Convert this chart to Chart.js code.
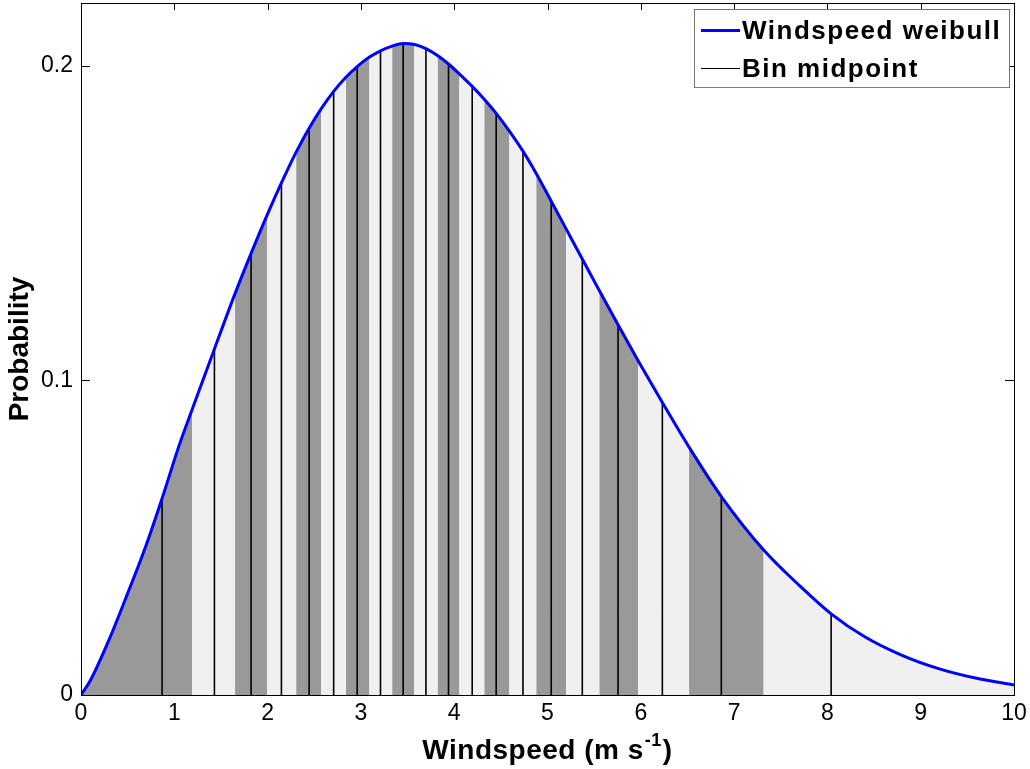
<!DOCTYPE html>
<html><head><meta charset="utf-8">
<script src="https://cdn.jsdelivr.net/npm/chart.js@4.4.1/dist/chart.umd.min.js"></script>
<style>html,body{margin:0;padding:0;background:#fff;}#wrap{width:1030px;height:769px;}</style>
</head><body><div id="wrap"><canvas id="c" width="1030" height="769"></canvas></div>
<script>
// ---- data ----
const curveX = [0, 0.1, 0.3, 0.5, 0.7, 0.869, 1.05, 1.194, 1.43, 1.651, 1.823, 1.998, 2.148, 2.306, 2.445, 2.577, 2.708, 2.839, 2.96, 3.092, 3.21, 3.335, 3.453, 3.574, 3.697, 3.821, 3.939, 4.057, 4.193, 4.322, 4.45, 4.593, 4.737, 4.879, 5.04, 5.201, 5.373, 5.555, 5.756, 5.973, 6.231, 6.517, 6.863, 7.317, 7.7, 8.04, 8.4, 8.8, 9.2, 9.6, 10];
const curveY = [0, 0.0046, 0.0175, 0.0323, 0.0478, 0.0625, 0.0792, 0.0910, 0.1100, 0.1276, 0.1404, 0.1528, 0.1628, 0.1726, 0.1802, 0.1865, 0.1919, 0.1964, 0.1998, 0.2028, 0.2048, 0.2063, 0.2071, 0.2068, 0.2055, 0.2033, 0.2006, 0.1974, 0.1935, 0.1894, 0.1849, 0.1792, 0.1729, 0.1658, 0.1570, 0.1481, 0.1386, 0.1286, 0.1177, 0.1062, 0.0930, 0.0788, 0.0631, 0.0461, 0.0348, 0.0258, 0.0185, 0.0126, 0.0083, 0.0053, 0.0032];
const binEdges = [0, 1.194, 1.651, 1.998, 2.306, 2.577, 2.839, 3.092, 3.335, 3.574, 3.821, 4.057, 4.322, 4.593, 4.879, 5.201, 5.555, 5.973, 6.517, 7.317, 10];
const midX = [0.869, 1.43, 1.823, 2.148, 2.445, 2.708, 2.96, 3.21, 3.453, 3.697, 3.939, 4.193, 4.45, 4.737, 5.04, 5.373, 5.756, 6.231, 6.863, 8.04];
const midY = [0.0625, 0.1100, 0.1404, 0.1628, 0.1802, 0.1919, 0.1998, 0.2048, 0.2071, 0.2055, 0.2006, 0.1935, 0.1849, 0.1729, 0.1570, 0.1386, 0.1177, 0.0930, 0.0631, 0.0258];
const xTicks = [0, 1, 2, 3, 4, 5, 6, 7, 8, 9, 10];
const yTicks = [0, 0.1, 0.2];
const seriesNames = ['Windspeed weibull', 'Bin midpoint'];
const xTitleParts = ['Windspeed (m s', '-1', ')'];
const yTitle = 'Probability';

// ---- styles ----
const FONT = '"Liberation Sans", Arial, Helvetica, sans-serif';
const DARK = '#999999', LIGHT = '#f0f0f0', BLUE = '#0000ff';

const curvePts = curveX.map((x, i) => ({x, y: curveY[i]}));
const midPts = midX.flatMap((x, i) => [{x, y: 0}, {x, y: midY[i]}, {x, y: null}]);

function binOf(x) {
  let b = 0;
  while (b < binEdges.length - 2 && x >= binEdges[b + 1] - 1e-9) b++;
  return b;
}

const framePlugin = {
  id: 'frame',
  beforeDatasetsDraw(chart) {
    const {ctx, chartArea: a, scales: {x, y}} = chart;
    ctx.save();
    ctx.strokeStyle = '#000'; ctx.lineWidth = 1;
    ctx.beginPath();
    x.ticks.forEach(t => {
      const px = Math.round(x.getPixelForValue(t.value)) + 0.5;
      ctx.moveTo(px, a.bottom); ctx.lineTo(px, a.bottom - 8);
      ctx.moveTo(px, a.top); ctx.lineTo(px, a.top + 7);
    });
    y.ticks.forEach(t => {
      const py = Math.round(y.getPixelForValue(t.value)) + 0.5;
      ctx.moveTo(a.left, py); ctx.lineTo(a.left + 9, py);
      ctx.moveTo(a.right, py); ctx.lineTo(a.right - 9, py);
    });
    ctx.stroke();
    ctx.restore();
  },
  afterDraw(chart) {
    const {ctx, chartArea: a} = chart;
    ctx.save();
    // box
    ctx.strokeStyle = '#000'; ctx.lineWidth = 1;
    ctx.strokeRect(Math.round(a.left) + 0.5, Math.round(a.top) + 0.5, Math.round(a.right - a.left), Math.round(a.bottom - a.top));
    // legend
    const bx = Math.round(a.right - 320), by = Math.round(a.top + 6), bw = 315, bh = 78;
    ctx.fillStyle = '#fff';
    ctx.fillRect(bx, by, bw, bh);
    ctx.strokeStyle = '#777'; ctx.lineWidth = 1;
    ctx.strokeRect(bx + 0.5, by + 0.5, bw, bh);
    const rows = [by + 21.5, by + 59.5];
    const styles = [{c: BLUE, w: 3}, {c: '#000', w: 1}];
    ctx.font = 'bold 26px ' + FONT;
    ctx.textBaseline = 'middle';
    ctx.textAlign = 'left';
    try { ctx.letterSpacing = '1.5px'; } catch (e) {}
    seriesNames.forEach((name, i) => {
      ctx.strokeStyle = styles[i].c; ctx.lineWidth = styles[i].w;
      ctx.beginPath(); ctx.moveTo(bx + 7, rows[i]); ctx.lineTo(bx + 46, rows[i]); ctx.stroke();
      ctx.fillStyle = '#000';
      ctx.fillText(name, bx + 48, rows[i] + 1);
    });
    try { ctx.letterSpacing = '0.5px'; } catch (e) {}
    // x title with superscript
    const fMain = 'bold 28px ' + FONT, fSup = 'bold 18px ' + FONT;
    ctx.font = fMain; const w1 = ctx.measureText(xTitleParts[0]).width, w3 = ctx.measureText(xTitleParts[2]).width;
    ctx.font = fSup; const w2 = ctx.measureText(xTitleParts[1]).width;
    const total = w1 + w2 + w3 + 2;
    let cx = (a.left + a.right) / 2 - total / 2;
    const ty = 759;
    ctx.textBaseline = 'alphabetic';
    ctx.font = fMain; ctx.fillText(xTitleParts[0], cx, ty); cx += w1 + 1;
    ctx.font = fSup; ctx.fillText(xTitleParts[1], cx, ty - 13); cx += w2 + 1;
    ctx.font = fMain; ctx.fillText(xTitleParts[2], cx, ty);
    ctx.restore();
  }
};

new Chart(document.getElementById('c'), {
  type: 'line',
  data: {
    datasets: [
      {
        label: seriesNames[0],
        data: curvePts,
        borderColor: BLUE, borderWidth: 3, pointRadius: 0, fill: false,
        cubicInterpolationMode: 'monotone', order: 1
      },
      {
        label: seriesNames[1],
        data: midPts,
        borderColor: '#000', borderWidth: 1.6, pointRadius: 0, fill: false,
        tension: 0, spanGaps: false, order: 2
      },
      {
        label: 'bins',
        data: curvePts,
        borderColor: 'rgba(0,0,0,0)', borderWidth: 0, pointRadius: 0,
        backgroundColor: DARK,
        fill: 'origin',
        cubicInterpolationMode: 'monotone', order: 3,
        segment: {
          backgroundColor: c => (binOf(curveX[c.p0DataIndex]) % 2 === 0 ? DARK : LIGHT)
        }
      }
    ]
  },
  options: {
    responsive: false,
    devicePixelRatio: 1,
    animation: false,
    layout: {padding: {top: 3, right: 16, left: 0, bottom: 0}},
    plugins: {legend: {display: false}, tooltip: {enabled: false}},
    scales: {
      x: {
        type: 'linear', min: 0, max: 10,
        afterBuildTicks: s => { s.ticks = xTicks.map(v => ({value: v})); },
        afterFit: s => { s.height = 74; s.paddingLeft = 0; s.paddingRight = 0; },
        grid: {display: false, drawTicks: false},
        border: {display: false},
        ticks: {color: '#000', font: {family: FONT, size: 23}, padding: 5, maxRotation: 0, autoSkip: false},
        title: {display: false}
      },
      y: {
        type: 'linear', min: 0, max: 0.22,
        afterBuildTicks: s => { s.ticks = yTicks.map(v => ({value: v})); },
        afterFit: s => { s.width = 81; s.paddingTop = 0; s.paddingBottom = 0; },
        grid: {display: false, drawTicks: false},
        border: {display: false},
        ticks: {color: '#000', font: {family: FONT, size: 23}, padding: 8, autoSkip: false},
        title: {display: true, text: yTitle, color: '#000', font: {family: FONT, size: 28, weight: 'bold'}, padding: {top: 3, bottom: 0}}
      }
    }
  },
  plugins: [framePlugin]
});
</script>
</body></html>
